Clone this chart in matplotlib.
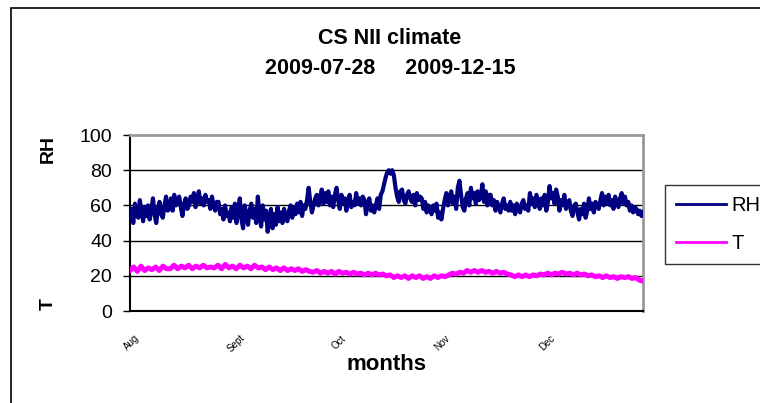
import numpy as np
import matplotlib
matplotlib.use("Agg")
import matplotlib.pyplot as plt
from matplotlib.lines import Line2D
from matplotlib.patches import Rectangle

plt.rcParams['font.family'] = ['Liberation Sans', 'DejaVu Sans']

# ---- data ----
title_line1 = "CS NII climate"
title_line2 = "2009-07-28     2009-12-15"
n_days = 140  # 2009-07-28 .. 2009-12-15

rh = [
    # Aug
    52, 58, 50, 61, 55, 53, 63, 56, 51, 59, 54, 60, 52, 57, 64, 55, 50, 58,
    62, 55, 53, 60, 65, 57, 58, 64, 57, 66, 60, 62, 65, 59, 54, 61, 64, 58,
    60, 65, 62, 67, 59, 63, 68, 61, 64, 60, 66, 62, 63, 58, 65, 60, 57, 62,
    62, 55, 58, 52, 60, 54, 56, 51, 59, 53, 61, 50, 58, 64, 52, 47, 60, 55,
    49, 57, 61, 53, 58, 50,
    # Sept
    65, 55, 48, 60, 52, 57, 45, 52, 58, 47, 55, 49, 59, 51, 56, 50, 58, 53,
    51, 57, 60, 53, 59, 55, 61, 56, 62, 54, 60, 58, 63, 70, 62, 56, 60, 64,
    66, 60, 64, 69, 61, 67, 62, 68, 60, 65, 59, 66, 70, 63, 58, 66, 61, 64,
    57, 63, 66, 59, 62, 60, 67, 61, 64, 60, 65, 63, 55, 61, 64, 57, 60, 56,
    60, 64, 58, 66, 68, 72, 76, 79,
    # Oct
    80, 78, 80, 77, 70, 65, 62, 68, 69, 63, 61, 66, 68, 64, 62, 66, 60, 67,
    63, 65, 64, 58, 62, 56, 60, 57, 55, 60, 57, 61, 53, 56, 52, 58, 63, 67,
    60, 64, 68, 61, 65, 58, 70, 74, 66, 59, 57, 64, 67, 60, 70, 64, 67, 61,
    68, 63, 65, 72, 62, 68, 60, 66, 66, 60, 63, 57, 62, 59, 56, 61, 64, 58,
    60, 57, 62, 57, 60, 55, 61, 58,
    # Nov / Dec
    56, 61, 63, 58, 60, 57, 67, 61, 64, 59, 66, 62, 58, 64, 60, 66, 57, 62,
    71, 64, 67, 61, 69, 65, 57, 63, 60, 66, 58, 61, 63, 57, 54, 60, 61, 56,
    52, 58, 55, 61, 53, 57, 64, 58, 61, 56, 62, 60, 58, 63, 67, 60, 65, 61,
    66, 60, 63, 58, 65, 62, 59, 64, 67, 61, 65, 60, 62, 57, 60, 56, 59, 58,
    55, 57, 54, 56,
]

t = [23, 25, 22.5, 25.5, 23, 24.5, 23.5, 25, 23, 25.5, 24,
     24, 26, 24, 25.5, 24.5, 26, 24, 25.5, 24.5, 26, 24.5, 25,
     24.5, 26, 24, 26.5, 24.5, 25.5, 24, 26, 24.5, 25.5, 24, 26, 24.5, 25,
     23.5, 25, 23.5, 24.5, 23, 24.5, 23, 24, 23, 24, 22.5, 23.5, 22.5,
     22, 23, 21.5, 22.5, 21.5, 22.5, 21, 22.5, 21.5, 22, 21, 22, 21, 21.5,
     20.5, 21.5, 20.5, 21.5, 20.5, 21, 20,
     20.5, 19, 20, 19, 20, 18.5, 20, 19, 20, 18.5, 19.5, 18.5, 20, 19, 20, 19.5,
     20.5, 21.5, 21, 22, 21.5, 23, 22, 23, 22, 23, 22, 22.5, 21.5, 22.5, 21.5,
     22, 21,
     20.5, 19.5, 20.5, 19.5, 20.5, 19.5, 20.5, 20, 21,
     20.5, 21.5, 20.5, 21.5, 21, 22, 21, 21.5, 20.5, 21.5, 20.5, 21, 20, 20.5,
     19.5, 20, 19, 20, 19, 19.5, 18.5, 19.5, 19, 19.5, 18.5, 19, 17.5, 17]

month_labels = ["Aug", "Sept", "Oct", "Nov", "Dec"]
month_ticks = [1.0, 30.0, 57.5, 86.0, 114.5]   # day offsets where labels sit
y_ticks = [0, 20, 40, 60, 80, 100]

# ---- figure ----
W, H = 760, 403
fig = plt.figure(figsize=(W / 100, H / 100), dpi=100)
ax = fig.add_axes([130 / W, 1 - 311 / H, (643 - 130) / W, (311 - 135) / H])

x_rh = np.linspace(0, n_days, len(rh))
x_t = np.linspace(0, n_days, len(t))
ax.plot(x_rh, rh, color='#000080', lw=3.0, solid_joinstyle='round', label='RH', zorder=3)
ax.plot(x_t, t, color='#FF00FF', lw=3.6, solid_joinstyle='round', label='T', zorder=3)

ax.set_xlim(0, n_days)
ax.set_ylim(0, 100)
ax.set_yticks(y_ticks)
ax.tick_params(axis='y', direction='out', length=5, width=1, pad=8, labelsize=14)
for yv in y_ticks[1:-1]:
    ax.axhline(yv, color='black', lw=1, zorder=1)

ax.set_xticks(month_ticks)
ax.set_xticklabels(month_labels, rotation=45, ha='right', va='top',
                   rotation_mode='anchor', fontsize=7)
ax.tick_params(axis='x', length=0, pad=16)

for s in ['left', 'bottom']:
    ax.spines[s].set_color('black')
    ax.spines[s].set_linewidth(1.5)
for s in ['top', 'right']:
    ax.spines[s].set_color('#999999')
    ax.spines[s].set_linewidth(2)

# axis labels
fig.text(48 / W, 1 - 149 / H, "RH", rotation=90, ha='center', va='center',
         fontsize=14, fontweight='bold')
fig.text(48 / W, 1 - 304 / H, "T", rotation=90, ha='center', va='center',
         fontsize=14, fontweight='bold')
fig.text(386 / W, 1 - 364 / H, "months", ha='center', va='center',
         fontsize=16, fontweight='bold')

# title
fig.text(390 / W, 1 - 38 / H, title_line1, ha='center', va='center',
         fontsize=15.5, fontweight='bold')
fig.text(390 / W, 1 - 68 / H, title_line2, ha='center', va='center',
         fontsize=15.5, fontweight='bold')

# legend
handles = [Line2D([], [], color='#000080', lw=2), Line2D([], [], color='#FF00FF', lw=2)]
leg = fig.legend(handles, ['RH', 'T'], loc='upper left',
                 bbox_to_anchor=(665 / W, 1 - 185 / H), fontsize=14.5,
                 frameon=True, fancybox=False, edgecolor='black',
                 handlelength=2.5, handletextpad=0.25, borderpad=0.55,
                 labelspacing=0.95, borderaxespad=0)
leg.get_frame().set_linewidth(1)

# outer chart border
fig.patches.append(Rectangle((11 / W, -0.1), 1.2, (1 - 8 / H) + 0.1,
                             transform=fig.transFigure, fill=False,
                             edgecolor='black', lw=1.2))

fig.savefig("out.png", dpi=100)
